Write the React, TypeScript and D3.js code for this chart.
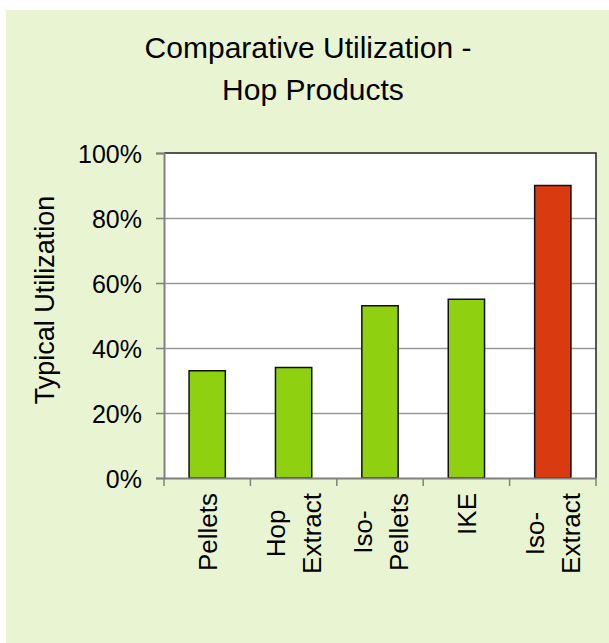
import React, { useEffect, useRef } from 'react';
import { select, scaleBand, scaleLinear, axisLeft, axisBottom, format } from 'd3';

const title = ['Comparative Utilization -', 'Hop Products'];
const yLabel = 'Typical Utilization';
const categories = ['Pellets', 'Hop\nExtract', 'Iso-\nPellets', 'IKE', 'Iso-\nExtract'];
const utilization = [0.33, 0.34, 0.53, 0.55, 0.9];
const yTicks = [0, 0.2, 0.4, 0.6, 0.8, 1];
const highlighted = 'Iso-\nExtract';

const W = 609;
const H = 643;
const margin = { top: 153, right: 13, bottom: 165, left: 164 };
const FONT = '"Liberation Sans", Arial, sans-serif';
const GREEN = '#8fd011';
const RED = '#d93a10';

export default function App() {
  const ref = useRef<SVGSVGElement>(null);

  useEffect(() => {
    const svg = select(ref.current);
    svg.selectAll('*').remove();

    const x0 = margin.left;
    const x1 = W - margin.right;
    const yTop = margin.top;
    const yBot = H - margin.bottom;

    // band scale for tick marks / labels, and a padded one for the bars
    const xCat = scaleBand<string>().domain(categories).range([x0, x1]).padding(0);
    const xBar = scaleBand<string>().domain(categories).range([x0, x1])
      .paddingInner(0.58).paddingOuter(0.29);
    const y = scaleLinear().domain([0, 1]).range([yBot, yTop]);

    // page background
    svg.append('rect')
      .attr('x', 6).attr('y', 10)
      .attr('width', W - 6).attr('height', H - 10)
      .attr('fill', '#e9f5d2');

    // title, centred on the chart area
    svg.append('g')
      .attr('font-family', FONT)
      .attr('font-size', 30)
      .attr('text-anchor', 'middle')
      .attr('fill', '#000')
      .selectAll('text')
      .data(title)
      .join('text')
        .attr('x', (d, i) => i === 0 ? 308 : 313)
        .attr('y', (d, i) => 58 + i * 42)
        .text(d => d);

    // plot area
    svg.append('rect')
      .attr('x', x0).attr('y', yTop)
      .attr('width', x1 - x0).attr('height', yBot - yTop)
      .attr('fill', '#fff');

    // grid
    svg.append('g')
      .attr('transform', `translate(${x0},0)`)
      .call(axisLeft(y).tickValues(yTicks.slice(1, -1)).tickSize(-(x1 - x0)).tickFormat(() => ''))
      .call(g => g.select('.domain').remove())
      .call(g => g.selectAll('line').attr('stroke', '#9a9a9a').attr('stroke-width', 1.5));

    // border top/right
    svg.append('path')
      .attr('d', `M${x0},${yTop}H${x1}V${yBot}`)
      .attr('fill', 'none')
      .attr('stroke', '#222')
      .attr('stroke-width', 1.5);

    // bars
    svg.append('g')
      .attr('stroke', '#111')
      .attr('stroke-width', 1.5)
      .selectAll('rect')
      .data(categories)
      .join('rect')
        .attr('x', d => xBar(d)!)
        .attr('y', (d, i) => y(utilization[i]))
        .attr('width', xBar.bandwidth())
        .attr('height', (d, i) => y(0) - y(utilization[i]))
        .attr('fill', d => d === highlighted ? RED : GREEN);

    // y axis
    svg.append('g')
      .attr('transform', `translate(${x0},0)`)
      .call(axisLeft(y).tickValues(yTicks).tickSize(8).tickPadding(14).tickFormat(format('.0%')))
      .call(g => g.select('.domain').attr('stroke', '#808080').attr('stroke-width', 2))
      .call(g => g.selectAll('line').attr('stroke', '#808080').attr('stroke-width', 1.5))
      .call(g => g.selectAll('text')
        .attr('font-family', FONT)
        .attr('font-size', 25)
        .attr('fill', '#000')
        .attr('dy', '0.38em'));

    // x axis ticks at category boundaries
    const boundaries = categories.map(c => xCat(c)!).concat([x1]);
    svg.append('g')
      .attr('transform', `translate(0,${yBot})`)
      .call(axisBottom(xCat).tickValues([]).tickSizeOuter(0))
      .call(g => g.select('.domain').attr('stroke', '#808080').attr('stroke-width', 2))
      .call(g => g.selectAll('.bound')
        .data(boundaries)
        .join('line')
          .attr('class', 'bound')
          .attr('x1', d => d).attr('x2', d => d)
          .attr('y1', 0).attr('y2', 8)
          .attr('stroke', '#808080')
          .attr('stroke-width', 1.5));

    // category labels, rotated, lines centred on the longest one
    const labelTop = yBot + 15;
    const labels = svg.append('g')
      .attr('font-family', FONT)
      .attr('font-size', 26)
      .attr('fill', '#000');
    categories.forEach(cat => {
      const lines = cat.split('\n');
      const cx = xCat(cat)! + xCat.bandwidth() / 2;
      const lh = 36;
      const g = labels.append('g');
      const texts = g.selectAll('text')
        .data(lines)
        .join('text')
          .attr('text-anchor', 'middle')
          .text(d => d);
      let maxLen = 0;
      texts.each(function () {
        maxLen = Math.max(maxLen, (this as SVGTextElement).getComputedTextLength());
      });
      const cy = labelTop + maxLen / 2;
      texts.attr('transform', (d, i) => {
        const bx = cx + 9.5 + (i - (lines.length - 1) / 2) * lh;
        return `translate(${bx},${cy}) rotate(-90)`;
      });
    });

    // y axis title
    svg.append('text')
      .attr('transform', 'translate(54,300) rotate(-90)')
      .attr('text-anchor', 'middle')
      .attr('font-family', FONT)
      .attr('font-size', 27)
      .attr('fill', '#000')
      .text(yLabel);
  }, []);

  return (
    <svg
      ref={ref}
      width={W}
      height={H}
      style={{ position: 'absolute', left: 0, top: 0, background: '#fff' }}
    />
  );
}
